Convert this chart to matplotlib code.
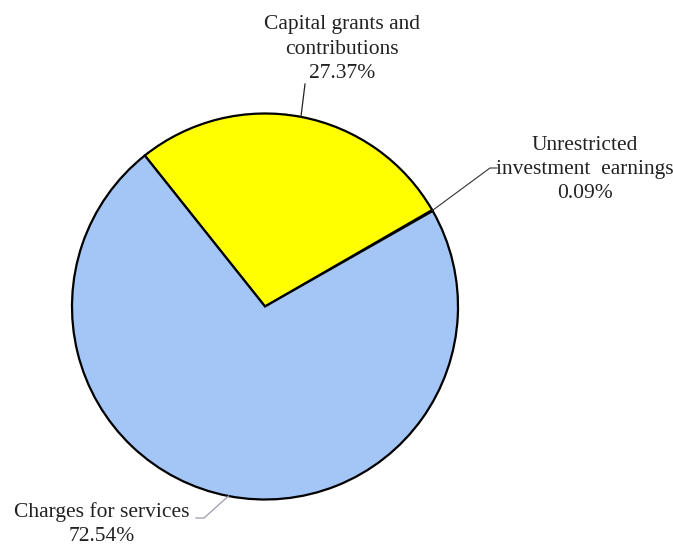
import numpy as np
import matplotlib
matplotlib.use("Agg")
import matplotlib.pyplot as plt

labels = ["Unrestricted\ninvestment  earnings", "Capital grants and\ncontributions", "Charges for services"]
values = [0.09, 27.37, 72.54]
colors = ["#A9C8F7", "#FFFF00", "#A4C6F6"]

W, H = 673, 548
cx, cy, R = 265, 306.5, 193.0

def px(x, y):
    return ((x - cx) / R, (cy - y) / R)

fig = plt.figure(figsize=(W / 100, H / 100), dpi=100)
ax = fig.add_axes([0, 0, 1, 1])

start = 30 - values[0] * 3.6
wedges, _ = ax.pie(values, colors=colors, startangle=start, counterclock=True,
                   radius=1.0, center=(0, 0), frame=True,
                   wedgeprops=dict(edgecolor="black", linewidth=1.6))
ax.set_aspect("equal")
ax.set_xlim(px(0, 0)[0], px(W, 0)[0])
ax.set_ylim(px(0, H)[1], px(0, 0)[1])
ax.axis("off")

font = dict(family="Liberation Serif", fontsize=15.5, color="#222222")

def mid(w):
    a = np.deg2rad((w.theta1 + w.theta2) / 2)
    return np.cos(a), np.sin(a)

# Unrestricted
m = mid(wedges[0])
p1 = px(490, 168); p2 = px(497, 168)
ax.plot([m[0], p1[0], p2[0]], [m[1], p1[1], p2[1]], color="#333333", lw=0.8)
ax.text(*px(585, 169.5), f"{labels[0]}\n{values[0]:.2f}%", ha="center", va="center",
        multialignment="center", linespacing=1.38, **font)

# Capital
m = mid(wedges[1])
p1 = px(305, 84)
ax.plot([m[0], p1[0]], [m[1], p1[1]], color="#222222", lw=0.9)
ax.text(*px(342, 49), f"{labels[1]}\n{values[1]:.2f}%", ha="center", va="center",
        multialignment="center", linespacing=1.38, **font)

# Charges
m = mid(wedges[2])
p1 = px(204, 518); p2 = px(196, 518)
ax.plot([m[0], p1[0], p2[0]], [m[1], p1[1], p2[1]], color="#9a9aaa", lw=0.9)
ax.text(*px(102, 524), f"{labels[2]}\n{values[2]:.2f}%", ha="center", va="center",
        multialignment="center", linespacing=1.3, **font)

fig.savefig("out.png", dpi=100, facecolor="white")
